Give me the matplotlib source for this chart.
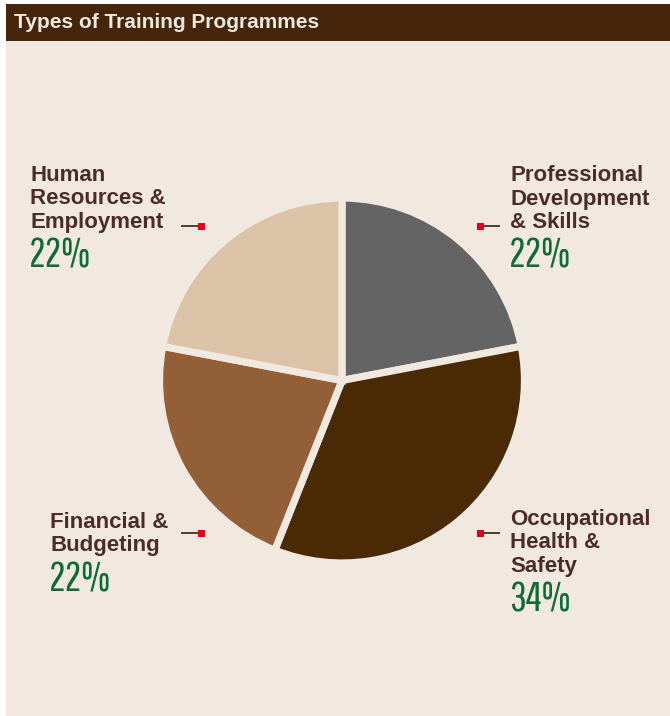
import matplotlib
matplotlib.use("Agg")
import matplotlib.pyplot as plt
from matplotlib.patches import Rectangle

# Data
categories = ["Professional\nDevelopment\n& Skills",
              "Occupational\nHealth &\nSafety",
              "Financial &\nBudgeting",
              "Human\nResources &\nEmployment"]
shares = [22, 34, 22, 22]
slice_colors = ["#646464", "#4A2905", "#925F37", "#DBC3A8"]
title = "Types of Training Programmes"

BG = "#F1E8E0"
HEADER = "#45260A"
LABEL = "#4B2B2B"
GREEN = "#0D6B34"
RED = "#E3001B"

W, H = 670, 716
DPI = 100
label_font = ["Liberation Sans", "DejaVu Sans"]
pct_font = ["Pathway Gothic One", "DejaVu Sans"]

fig = plt.figure(figsize=(W / DPI, H / DPI), dpi=DPI, facecolor="white")

# Canvas axes in pixel coordinates
bg = fig.add_axes([0, 0, 1, 1])
bg.set_xlim(0, W)
bg.set_ylim(H, 0)
bg.axis("off")
bg.add_patch(Rectangle((6, 41), W - 6, H - 41, facecolor=BG, edgecolor="none"))
bg.add_patch(Rectangle((6, 4), W - 6, 37, facecolor=HEADER, edgecolor="none"))
bg.text(14, 28.5, title, color=BG, fontsize=15, fontweight="bold",
        family=label_font, va="baseline", ha="left")

# Pie
cx, cy, R = 342, 380.5, 182.5
pax = fig.add_axes([(cx - R) / W, 1 - (cy + R) / H, 2 * R / W, 2 * R / H])
pax.pie(shares, colors=slice_colors, startangle=90, counterclock=False,
        radius=1.0, wedgeprops=dict(edgecolor=BG, linewidth=5.2))
pax.set_xlim(-1, 1)
pax.set_ylim(-1, 1)
pax.set_aspect("equal")
pax.axis("off")

# Callout labels: (text x, first baseline, marker x, marker y, line side)
callouts = [
    (510, 181, 480, 226, +1),
    (510, 525, 480, 533, +1),
    (50, 528, 201, 533, -1),
    (30, 181, 201, 226, -1),
]
step = 23.5
for cat, val, (tx, ty, mx, my, side) in zip(categories, shares, callouts):
    lines = cat.split("\n")
    for i, ln in enumerate(lines):
        bg.text(tx, ty + i * step, ln, color=LABEL, fontsize=16,
                fontweight="bold", family=label_font, va="baseline", ha="left")
    pct_y = ty + (len(lines) - 1) * step + 40
    bg.text(tx - 1, pct_y, f"{val}%", color=GREEN, fontsize=30,
            family=pct_font, va="baseline", ha="left")
    if side > 0:
        bg.plot([mx, mx + 20], [my, my], color="#3A1E10", lw=1.2,
                solid_capstyle="butt")
    else:
        bg.plot([mx - 20, mx], [my, my], color="#3A1E10", lw=1.2,
                solid_capstyle="butt")
    bg.add_patch(Rectangle((mx - 3.5, my - 3.5), 7, 7, facecolor=RED,
                           edgecolor="none", zorder=5))

fig.savefig("out.png", dpi=DPI, facecolor="white")
